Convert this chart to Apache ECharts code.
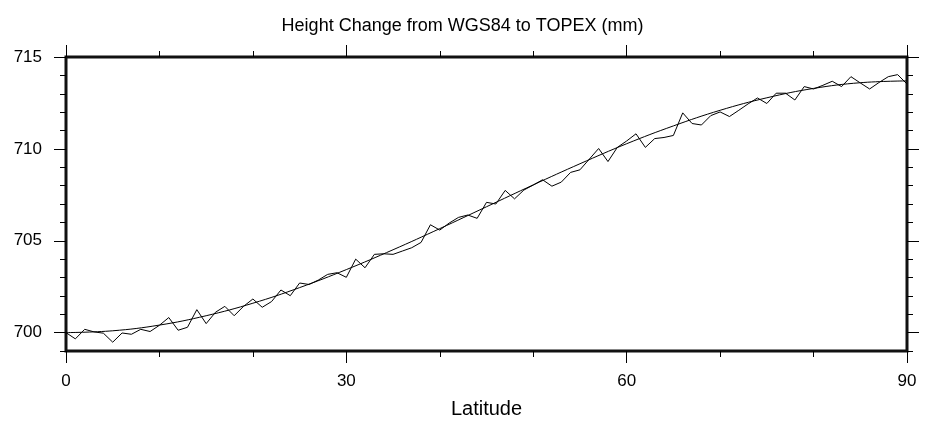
<!DOCTYPE html>
<html>
<head>
<meta charset="utf-8">
<script src="https://cdn.jsdelivr.net/npm/echarts@6/dist/echarts.min.js"></script>
<style>
html,body{margin:0;padding:0;background:#fff;}
#chart{width:925px;height:426px;}
</style>
</head>
<body>
<div id="chart"></div>
<script>
// Latitude (degrees) for the observed series
const latitudes = [0,1,2,3,4,5,6,7,8,9,10,11,12,13,14,15,16,17,18,19,20,21,22,23,24,25,26,27,28,29,30,31,32,33,34,35,36,37,38,39,40,41,42,43,44,45,46,47,48,49,50,51,52,53,54,55,56,57,58,59,60,61,62,63,64,65,66,67,68,69,70,71,72,73,74,75,76,77,78,79,80,81,82,83,84,85,86,87,88,89,90];
const heightObserved = [700.00,699.66,700.18,700.04,699.97,699.48,699.98,699.91,700.18,700.06,
  700.40,700.82,700.13,700.29,701.25,700.49,701.11,701.43,700.92,701.43,
  701.83,701.38,701.69,702.32,702.01,702.70,702.62,702.86,703.17,703.26,
  703.01,704.00,703.53,704.26,704.29,704.26,704.44,704.62,704.91,705.87,
  705.58,705.96,706.27,706.40,706.22,707.09,707.00,707.74,707.28,707.76,
  708.03,708.32,707.97,708.19,708.72,708.86,709.44,710.02,709.31,710.08,
  710.43,710.82,710.08,710.56,710.62,710.73,711.96,711.38,711.30,711.81,
  712.01,711.76,712.10,712.45,712.77,712.47,713.03,713.03,712.66,713.39,
  713.26,713.46,713.68,713.39,713.93,713.59,713.26,713.61,713.93,714.04,713.53];
// Smooth model curve (mm), read at 5-degree steps
const curveLatitudes = [0,5,10,15,20,25,30,35,40,45,50,55,60,65,70,75,80,85,90];
const heightModel = [700.00,700.10,700.41,700.92,701.60,702.45,703.43,704.51,705.66,706.85,708.04,709.19,710.28,711.25,712.10,712.78,713.29,713.60,713.70];
// Tick labels
const xTickLabels = [0,30,60,90];
const yTickLabels = [700,705,710,715];

const titleText = 'Height Change from WGS84 to TOPEX (mm)';
const xName = 'Latitude';

const FONT = 'Liberation Sans, Arial, Helvetica, sans-serif';
const chart = echarts.init(document.getElementById('chart'), null, {renderer: 'canvas'});

const obsData = latitudes.map((x, i) => [x, heightObserved[i]]);
const modelData = curveLatitudes.map((x, i) => [x, heightModel[i]]);

const tickStyle = {color: '#000', width: 1};

function xAxisDef(pos, withLabels) {
  return {
    type: 'value', position: pos, min: 0, max: 90, interval: 30,
    name: withLabels ? xName : '',
    nameLocation: 'middle', nameGap: 48,
    nameTextStyle: {fontFamily: FONT, fontSize: 20, color: '#000'},
    axisLine: {show: false},
    axisTick: {show: true, length: 12, inside: false, lineStyle: tickStyle},
    minorTick: {show: true, splitNumber: 3, length: 6, lineStyle: tickStyle},
    axisLabel: {show: withLabels, margin: 22, fontFamily: FONT, fontSize: 17, color: '#000',
      customValues: xTickLabels},
    splitLine: {show: false}, minorSplitLine: {show: false}
  };
}
function yMajor(pos, withLabels) {
  return {
    type: 'value', position: pos, min: 699, max: 715, offset: 0,
    axisLine: {show: false},
    axisTick: {show: true, length: 12, inside: false, lineStyle: tickStyle, customValues: yTickLabels},
    axisLabel: {show: withLabels, margin: 24, fontFamily: FONT, fontSize: 17, color: '#000',
      customValues: yTickLabels},
    splitLine: {show: false}
  };
}
function yMinor(pos) {
  return {
    type: 'value', position: pos, min: 699, max: 715, interval: 1, offset: 0,
    axisLine: {show: false},
    axisTick: {show: true, length: 6, inside: false, lineStyle: tickStyle},
    axisLabel: {show: false},
    splitLine: {show: false}
  };
}

chart.setOption({
  animation: false,
  backgroundColor: '#fff',
  title: {
    text: titleText, left: 'center', top: 12,
    textStyle: {fontFamily: FONT, fontSize: 18, fontWeight: 'normal', color: '#000'}
  },
  grid: {left: 66, right: 18, top: 57, bottom: 75, show: true,
    borderWidth: 3, borderColor: '#111', backgroundColor: 'transparent', containLabel: false},
  xAxis: [xAxisDef('bottom', true), xAxisDef('top', false)],
  yAxis: [yMajor('left', true), yMinor('left'), yMajor('right', false), yMinor('right')],
  series: [
    {type: 'line', data: obsData, xAxisIndex: 0, yAxisIndex: 0, showSymbol: false,
      lineStyle: {color: '#000', width: 1}, z: 3},
    {type: 'line', data: modelData, xAxisIndex: 0, yAxisIndex: 0, showSymbol: false, smooth: 0.4,
      lineStyle: {color: '#000', width: 1}, z: 3}
  ]
});
</script>
</body>
</html>
